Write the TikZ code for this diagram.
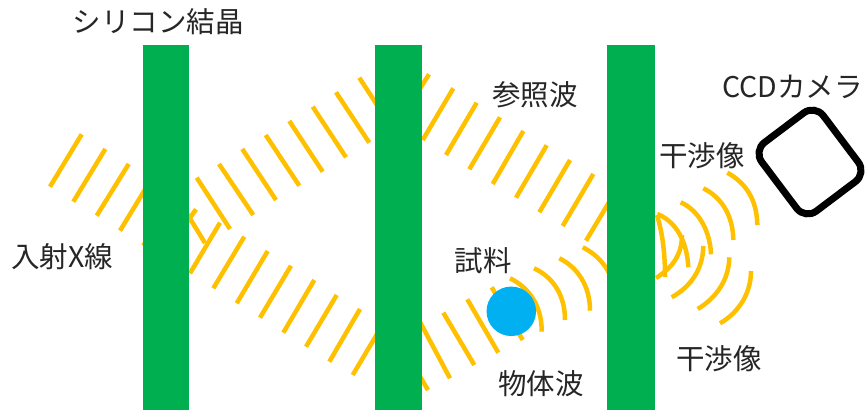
\documentclass[tikz,border=0pt]{standalone}
\usepackage{fontspec}
\setmainfont{Noto Sans CJK JP}
\definecolor{waveyellow}{HTML}{FFC000}
\definecolor{crystalgreen}{HTML}{00B050}
\definecolor{sampleblue}{HTML}{00B0F0}
\definecolor{textgray}{HTML}{262626}
\begin{document}
\begin{tikzpicture}[x=1pt,y=-1pt,
  wave/.style={draw=waveyellow, line width=4.5pt},
  crystal/.style={fill=crystalgreen, draw=none},
  caption/.style={font=\fontsize{28.5}{30}\selectfont, text=textgray, inner sep=0pt},
]
\useasboundingbox (0,0) rectangle (867,410);

% incident X-ray wavefronts
\draw[wave] (50,186.7) -- (81.7,134.3);
\draw[wave] (73.3,201.7) -- (105.3,149);
\draw[wave] (96.7,215.7) -- (128.7,164);
\draw[wave] (120,230.7) -- (152,178);
\draw[wave] (143.3,245.7) -- (175,193);

% diffracted beam rising towards the second crystal
\draw[wave] (186,212) -- (205,243);
\draw[wave] (196.7,177.7) -- (230,229);
\draw[wave] (219,164) -- (253.3,215);
\draw[wave] (242.3,149) -- (276,200);
\draw[wave] (265.7,135) -- (299.3,185.7);
\draw[wave] (289.3,121) -- (322.7,171.7);
\draw[wave] (312.7,106.7) -- (346,157.3);
\draw[wave] (336,92.3) -- (369.3,142.7);
\draw[wave] (359.3,77.7) -- (392,128);

% transmitted beam descending towards the second crystal
\draw[wave] (185,225) -- (196,209.3);
\draw[wave] (190,273.3) -- (220,222.7);
\draw[wave] (213.3,288.3) -- (244.3,236.7);
\draw[wave] (236.7,303.3) -- (267.7,251);
\draw[wave] (260,317.7) -- (291,265.7);
\draw[wave] (283.3,332.7) -- (314.3,280);
\draw[wave] (306,346.7) -- (336.7,295);
\draw[wave] (329.3,361.7) -- (360,309);
\draw[wave] (352.7,375) -- (383,324);

% reference wave
\draw[wave] (399,122) -- (429,74.3);
\draw[wave] (422.7,140) -- (453.3,88.3);
\draw[wave] (446,155) -- (476.7,102.7);
\draw[wave] (469.3,169.3) -- (500,117.3);
\draw[wave] (492.7,184) -- (523.3,131);
\draw[wave] (516,197.7) -- (546.7,145.3);
\draw[wave] (539.3,212.3) -- (570,160);
\draw[wave] (562.7,226) -- (593.3,174);
\draw[wave] (586,240.7) -- (617,189);

% beam illuminating the sample
\draw[wave] (397,338) -- (428,390);
\draw[wave] (420,322) -- (450,378.3);
\draw[wave] (443.3,312.7) -- (474.3,365);
\draw[wave] (467.3,299.3) -- (498.3,352.7);
\draw[wave] (491.7,287.3) -- (522.7,340);

% object wave scattered by the sample
\draw[wave] (510,278.3) .. controls (528,287) and (542,305) .. (541.7,331.7);
\draw[wave] (534,268.3) .. controls (551,276) and (565,293) .. (565,320);
\draw[wave] (559.3,258.3) .. controls (577,267) and (590,285) .. (590,310.7);
\draw[wave] (582.7,247.3) .. controls (600,256) and (614,272) .. (616,300);

% interference behind the third crystal
\draw[wave] (657,215) .. controls (663,235) and (665,255) .. (665,277);
\draw[wave] (656,278) .. controls (672,268) and (682,255) .. (682,235);
\draw[wave] (657.3,214) .. controls (675,221) and (687,240) .. (688.3,267.3);
\draw[wave] (680.7,202.3) .. controls (698,210) and (710,230) .. (711,254.3);
\draw[wave] (703.3,188.3) .. controls (721,197) and (733,215) .. (733.3,240);
\draw[wave] (727.3,172.7) .. controls (746,183) and (757,200) .. (757.3,225);
\draw[wave] (671.7,297.3) .. controls (690,287) and (703,270) .. (703.3,246);
\draw[wave] (697.7,309) .. controls (716,298) and (729,280) .. (729.3,257.3);
\draw[wave] (720,323.3) .. controls (738,313) and (751,294) .. (751,271);

% silicon crystal plates
\fill[crystal] (143,45) rectangle (189,410);
\fill[crystal] (375,45) rectangle (421.5,410);
\fill[crystal] (607,45) rectangle (655,410);

% sample
\node (sample) [circle, fill=sampleblue, minimum size=49.5pt, inner sep=0pt] at (511.3,311.3) {};

% CCD camera
\node (ccd) [draw=black, line width=7pt, rounded corners=14pt, minimum width=77pt,
  minimum height=86pt, inner sep=0pt, rotate=37] at (810,162) {};

% labels
\node (lbl-si) [caption] at (158,22) {シリコン結晶};
\node (lbl-in) [caption] at (62,257) {入射X線};
\node (lbl-ref) [caption] at (535,95) {参照波};
\node (lbl-smp) [caption] at (483,261) {試料};
\node (lbl-obj) [caption] at (541,384) {物体波};
\node (lbl-int1) [caption] at (702,156) {干渉像};
\node (lbl-int2) [caption] at (719,359) {干渉像};
\node (lbl-ccd) [caption, anchor=west] at (722,87) {CCDカメラ};
\end{tikzpicture}
\end{document}
